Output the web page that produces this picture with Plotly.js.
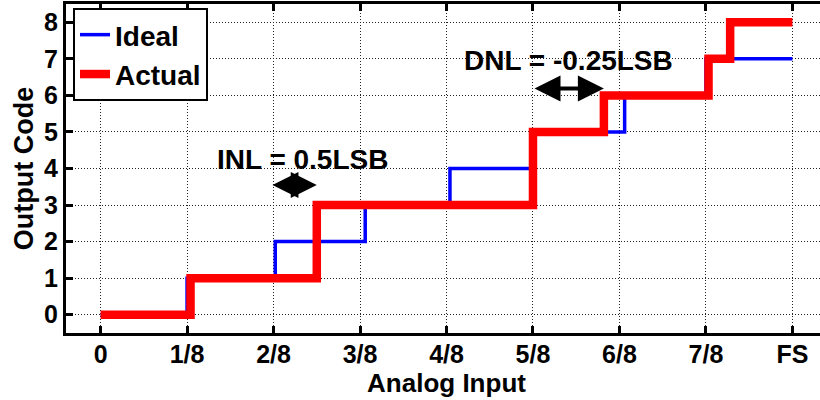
<!DOCTYPE html>
<html>
<head>
<meta charset="utf-8">
<script src="https://cdn.plot.ly/plotly-3.0.1.min.js"></script>
<style>
html,body{margin:0;padding:0;overflow:hidden;background:#fff;}
#chart{width:840px;height:400px;}
</style>
</head>
<body>
<div id="chart"></div>
<script>
// Data (x in units of 1/8 full scale)
const xTickVals = [0, 1, 2, 3, 4, 5, 6, 7, 8];
const xTickText = ['0', '1/8', '2/8', '3/8', '4/8', '5/8', '6/8', '7/8', 'FS'];
const yTickVals = [0, 1, 2, 3, 4, 5, 6, 7, 8];

const idealX = [0, 1, 2.02, 3.06, 4.04, 5, 6.06, 7, 8];
const idealY = [0, 1, 2, 3, 4, 5, 6, 7, 7];

const actualX = [0, 1.04, 2.5, 5, 5.82, 7.03, 7.28, 8];
const actualY = [0, 1, 3, 5, 6, 7, 8, 8];

const FONT = 'Liberation Sans, Arial, sans-serif';

const traces = [
  {x: idealX, y: idealY, name: 'Ideal', mode: 'lines', line: {shape: 'hv', color: '#0000ff', width: 3.5}},
  {x: actualX, y: actualY, name: 'Actual', mode: 'lines', line: {shape: 'hv', color: '#ff0000', width: 8.5}}
];

const axisCommon = {
  showline: true, linecolor: '#000', linewidth: 3, mirror: 'ticks',
  ticks: 'inside', ticklen: 7, tickwidth: 3, tickcolor: '#000',
  showgrid: true, gridcolor: '#222', gridwidth: 1, griddash: '1px,2px',
  zeroline: false,
  tickfont: {family: FONT, size: 25, color: '#000', weight: 'bold'}
};

const layout = {
  width: 840, height: 400,
  margin: {l: 66, r: 13, t: 4, b: 67},
  paper_bgcolor: '#fff', plot_bgcolor: '#fff',
  font: {family: FONT, color: '#000', weight: 'bold'},
  showlegend: true,
  legend: {
    x: 0.0092, y: 0.988, xanchor: 'left', yanchor: 'top',
    bgcolor: '#fff', bordercolor: '#000', borderwidth: 2,
    font: {family: FONT, size: 28, color: '#000', weight: 'bold'},
    tracegroupgap: 0
  },
  xaxis: Object.assign({}, axisCommon, {
    range: [-0.4, 8.4], tickmode: 'array', tickvals: xTickVals, ticktext: xTickText,
    ticklabelstandoff: -3,
    title: {text: 'Analog Input', font: {family: FONT, size: 26, color: '#000', weight: 'bold'}, standoff: 2}
  }),
  yaxis: Object.assign({}, axisCommon, {
    range: [-0.5, 8.5], tickmode: 'array', tickvals: yTickVals,
    tickfont: {family: FONT, size: 25, color: '#000', weight: 'bold'},
    title: {text: 'Output Code', font: {family: FONT, size: 27, color: '#000', weight: 'bold'}, standoff: 3}
  }),
  annotations: [
    {x: 2.33, y: 4.25, xref: 'x', yref: 'y', text: 'INL = 0.5LSB', showarrow: false,
     font: {family: FONT, size: 28, color: '#000', weight: 'bold'}},
    {x: 5.41, y: 6.95, xref: 'x', yref: 'y', text: 'DNL = -0.25LSB', showarrow: false,
     font: {family: FONT, size: 28, color: '#000', weight: 'bold'}},
    {x: 2.5, y: 3.55, ax: 1.97, ay: 3.55, xref: 'x', yref: 'y', axref: 'x', ayref: 'y',
     text: '', showarrow: true, arrowside: 'end+start', arrowhead: 2, startarrowhead: 2,
     arrowsize: 1.3, startarrowsize: 1.3, arrowwidth: 4, arrowcolor: '#000'},
    {x: 5.82, y: 6.19, ax: 5.0, ay: 6.19, xref: 'x', yref: 'y', axref: 'x', ayref: 'y',
     text: '', showarrow: true, arrowside: 'end+start', arrowhead: 2, startarrowhead: 2,
     arrowsize: 1.3, startarrowsize: 1.3, arrowwidth: 4, arrowcolor: '#000'}
  ]
};

Plotly.newPlot('chart', traces, layout, {displayModeBar: false, staticPlot: true});
</script>
</body>
</html>
